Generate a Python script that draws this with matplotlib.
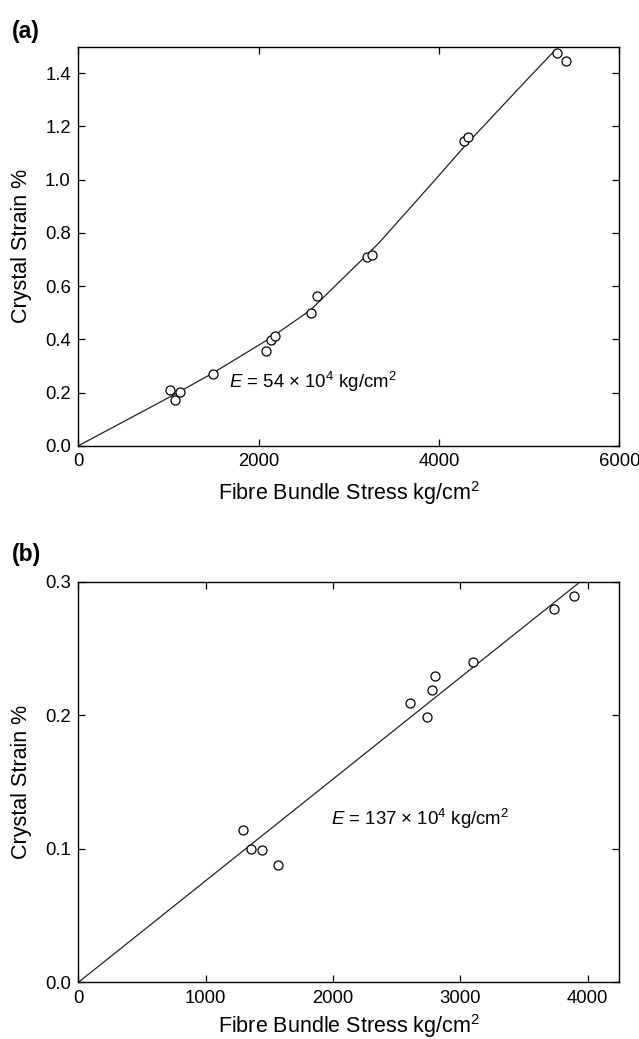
import numpy as np
import matplotlib
matplotlib.use("Agg")
import matplotlib.pyplot as plt

plt.rcParams['font.family'] = ['Liberation Sans', 'DejaVu Sans']
plt.rcParams['mathtext.fontset'] = 'custom'
plt.rcParams['mathtext.rm'] = 'Liberation Sans'
plt.rcParams['mathtext.it'] = 'Liberation Sans:italic'

# panel (a) data
stress_a = [1017, 1076, 1121, 1492, 2080, 2134, 2184, 2577, 2649, 3196, 3260, 4277, 4319, 5306, 5405]
strain_a = [0.211, 0.173, 0.201, 0.270, 0.355, 0.399, 0.412, 0.498, 0.562, 0.711, 0.718, 1.144, 1.162, 1.475, 1.446]
# fitted curve
curve_x = [0, 1050, 1480, 2130, 2570, 3180, 3340, 3970, 4270, 4900, 5272]
curve_y = [0, 0.19, 0.271, 0.405, 0.509, 0.711, 0.765, 1.005, 1.121, 1.349, 1.482]

# panel (b) data
stress_b = [1292, 1356, 1442, 1567, 2603, 2737, 2779, 2798, 3096, 3737, 3894]
strain_b = [0.1138, 0.0996, 0.0988, 0.0881, 0.2091, 0.1984, 0.2189, 0.2296, 0.2396, 0.2793, 0.2890]
line_b_x = [0, 3942]
line_b_y = [0, 0.3]

fig = plt.figure(figsize=(6.39, 10.39), dpi=100)
ax1 = fig.add_axes([0.1228, 0.5710, 0.8466, 0.3841])
ax2 = fig.add_axes([0.1228, 0.0546, 0.8466, 0.3855])


def style(ax, xpad):
    ax.tick_params(direction='in', top=True, right=True, length=5, width=0.9,
                   labelsize=13.3, pad=5.5)
    for s in ax.spines.values():
        s.set_linewidth(1.0)
    ax.set_xlabel('Fibre Bundle Stress kg/cm$^2$', fontsize=15.5, labelpad=xpad)
    ax.set_ylabel('Crystal Strain %', fontsize=15.5, labelpad=9)


ax1.plot(curve_x, curve_y, color='#222222', lw=0.9)
ax1.plot(stress_a, strain_a, 'o', mfc='white', mec='black', mew=0.9, ms=6.5)
ax1.set_xlim(0, 6000)
ax1.set_ylim(0, 1.5)
ax1.set_xticks([0, 2000, 4000, 6000])
ax1.set_yticks([0, 0.2, 0.4, 0.6, 0.8, 1.0, 1.2, 1.4])
ax1.yaxis.set_major_formatter(matplotlib.ticker.FormatStrFormatter('%.1f'))
style(ax1, 6)
ax1.text(1672, 0.216, '$E$ = 54 × 10$^4$ kg/cm$^2$', fontsize=13.4, va='baseline')

ax2.plot(line_b_x, line_b_y, color='#222222', lw=0.9)
ax2.plot(stress_b, strain_b, 'o', mfc='white', mec='black', mew=0.9, ms=6.5)
ax2.set_xlim(0, 4250)
ax2.set_ylim(0, 0.3)
ax2.set_xticks([0, 1000, 2000, 3000, 4000])
ax2.set_yticks([0, 0.1, 0.2, 0.3])
ax2.yaxis.set_major_formatter(matplotlib.ticker.FormatStrFormatter('%.1f'))
style(ax2, 3.5)
ax2.text(1987, 0.1178, '$E$ = 137 × 10$^4$ kg/cm$^2$', fontsize=13.4, va='baseline')

fig.text(0.018, 0.970, '(a)', fontsize=16.5, fontweight='bold', va='center')
fig.text(0.018, 0.466, '(b)', fontsize=16.5, fontweight='bold', va='center')

fig.savefig('out.png', dpi=100)
